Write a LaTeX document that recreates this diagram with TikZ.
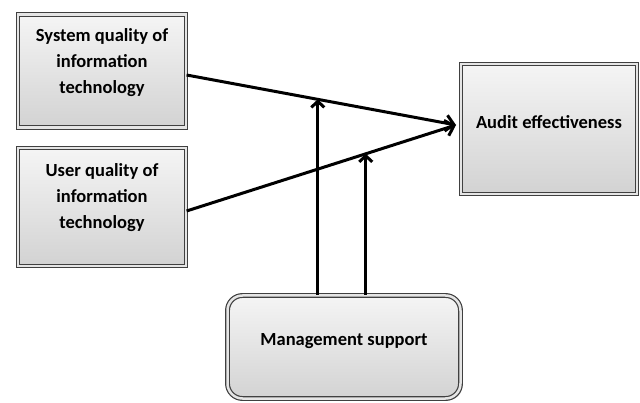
\documentclass[tikz,border=0pt]{standalone}
\usepackage{fontspec}
\setmainfont{Carlito}
\usetikzlibrary{arrows.meta,calc,shadows}
\begin{document}
\begin{tikzpicture}[x=1pt,y=-1pt,
  bevelbox/.style={draw=black!75, line width=1.2pt, top color=gray!8, bottom color=gray!35,
    drop shadow={shadow xshift=2pt, shadow yshift=-2pt, opacity=0.35},
    double=gray!20, double distance=2.5pt, inner sep=0pt},
  boxtext/.style={align=center, font=\bfseries\fontsize{18.5}{26}\selectfont, inner sep=0pt},
  conn/.style={line width=3pt, -{Straight Barb[length=8pt,width=16pt,line width=3pt]}},
  up/.style={line width=3pt, -{Straight Barb[length=6pt,width=13pt,line width=3pt]}}]
\useasboundingbox (0,0) rectangle (640,403);
\node[bevelbox, minimum width=168pt, minimum height=113pt] (sys) at (102,71) {};
\node[boxtext] (sysT) at ([yshift=8pt]sys.center) {System quality of\\information\\technology};
\node[bevelbox, minimum width=168pt, minimum height=118pt] (usr) at (102,207) {};
\node[boxtext] (usrT) at ([yshift=9pt]usr.center) {User quality of\\information\\technology};
\node[bevelbox, minimum width=176pt, minimum height=130pt] (aud) at (549,129) {};
\node[boxtext] (audT) at ([yshift=7pt]aud.center) {Audit effectiveness};
\node[bevelbox, rounded corners=15pt, minimum width=233pt, minimum height=103pt] (man) at (344,347) {};
\node[boxtext] (manT) at ([yshift=6pt]man.center) {Management support};
\coordinate (tip) at (456,125);
\coordinate (s1) at (sys.east |- 0,75);
\coordinate (s2) at (usr.east |- 0,211);
\draw[conn] (s1) -- (tip);
\draw[conn] (s2) -- (tip);
\coordinate (m1) at ($(s1)!0.487!(tip)$);
\coordinate (m2) at ($(s2)!0.665!(tip)$);
\draw[up] (man.north -| m1) -- (m1);
\draw[up] (man.north -| m2) -- (m2);
\end{tikzpicture}
\end{document}
